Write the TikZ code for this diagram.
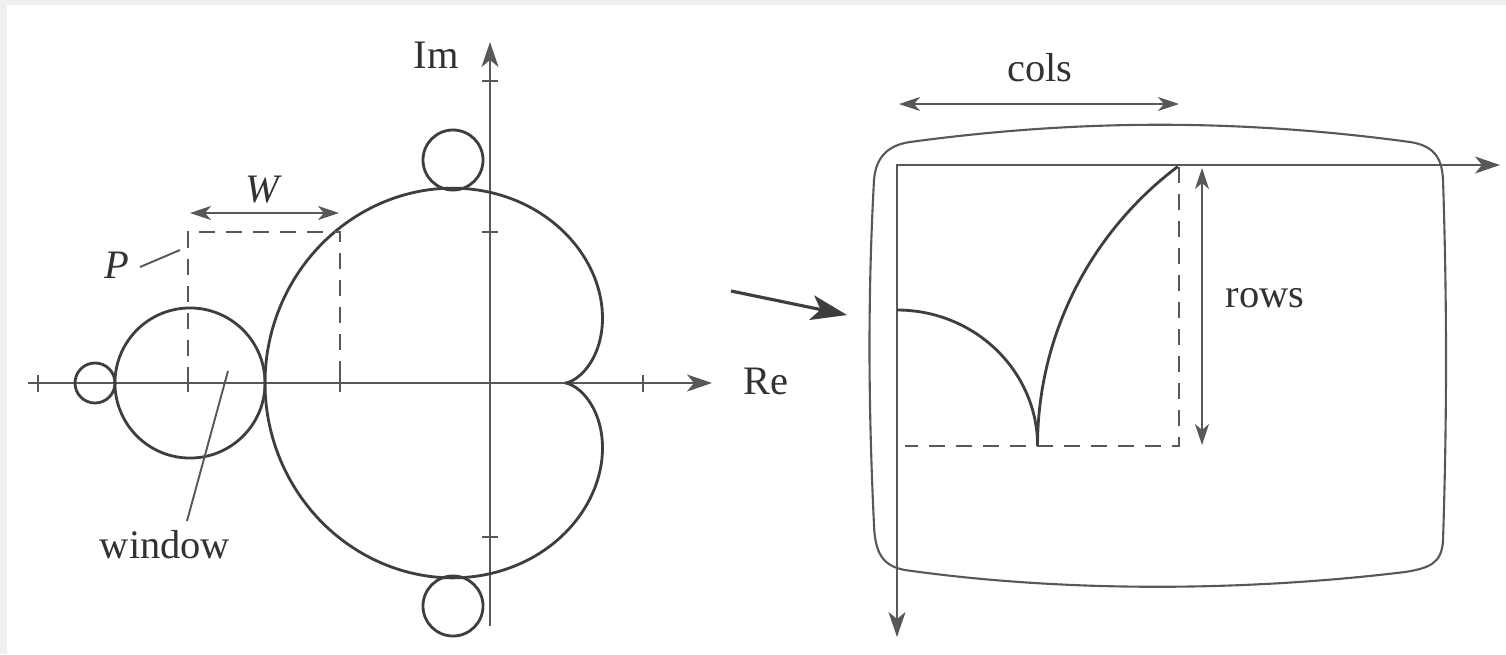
\documentclass[tikz,border=0pt]{standalone}
\usepackage{fontspec}
\setmainfont{Liberation Serif}
\usetikzlibrary{arrows.meta}
\definecolor{ink}{RGB}{62,62,62}
\definecolor{axiscol}{RGB}{88,88,88}
\definecolor{txt}{RGB}{50,50,50}
\begin{document}
\begin{tikzpicture}[x=0.01cm,y=-0.01cm,
  curve/.style={draw=ink, line width=0.8pt},
  ax/.style={draw=axiscol, line width=0.55pt},
  dashline/.style={draw=axiscol, line width=0.55pt, dash pattern=on 1.6mm off 1.1mm},
  onetip/.style={-{Stealth[length=2.5mm,width=1.7mm,inset=0.7mm]}},
  twotip/.style={{Stealth[length=2.1mm,width=1.4mm,inset=0.6mm]}-{Stealth[length=2.1mm,width=1.4mm,inset=0.6mm]}},
  lab/.style={font=\fontsize{11.5}{13}\selectfont, text=txt, inner sep=0pt, anchor=base}]
% background
\fill[gray!12] (0,0) rectangle (1506,654);
\fill[white] (7,5) rectangle (1506,654);
\useasboundingbox (0,0) rectangle (1506,654);

% ---------- left panel ----------
\coordinate (reL) at (28,383);
\coordinate (reR) at (712,383);
\coordinate (imB) at (490,626);
\coordinate (imT) at (490,42);
\draw[ax,onetip] (reL) -- (reR);
\draw[ax,onetip] (imB) -- (imT);
\foreach \xx in {38,188,340,643} \draw[ax] (\xx,375) -- (\xx,392);
\foreach \yy in {81,232,537} \draw[ax] (482,\yy) -- (498,\yy);

% main cardioid
\draw[curve] plot[domain=0:360,samples=361,variable=\t]
  ({490+300*(cos(\t)/2-cos(2*\t)/4)},{383-300*(sin(\t)/2-sin(2*\t)/4)});
% bulbs
\draw[curve] (190,383) circle[radius=0.75cm];
\draw[curve] (95,383) circle[radius=0.20cm];
\draw[curve] (453,160) circle[radius=0.30cm];
\draw[curve] (453,606) circle[radius=0.30cm];

% window
\draw[dashline] (188,383) -- (188,232) -- (340,232) -- (340,383);
\coordinate (w1) at (190,213);
\coordinate (w2) at (339,213);
\draw[ax,twotip] (w1) -- (w2);
\node[lab] (W) at (264,202) {\textit{W}};
\node[lab] (P) at (117,278) {\textit{P}};
\coordinate (pa) at (140,267);
\coordinate (pb) at (180,250);
\draw[ax] (pa) -- (pb);
\node[lab] (win) at (165,558) {window};
\coordinate (wa) at (187,521);
\coordinate (wb) at (228,371);
\draw[ax] (wa) -- (wb);
\node[lab] (Im) at (436,68) {Im};
\node[lab] (Re) at (766,394) {Re};

% ---------- middle arrow ----------
\coordinate (ma) at (731,291);
\coordinate (mb) at (847,315);
\draw[ink, line width=0.9pt, -{Stealth[length=3.6mm,width=2.5mm,inset=0.9mm]}] (ma) -- (mb);

% ---------- right panel ----------
\draw[draw=axiscol, line width=0.6pt]
  (910,142) .. controls (1080,119) and (1240,119) .. (1410,142)
  .. controls (1436,146) and (1442,160) .. (1443,180)
  .. controls (1447,300) and (1447,420) .. (1443,540)
  .. controls (1442,563) and (1430,568) .. (1405,572)
  .. controls (1240,592) and (1060,592) .. (905,570)
  .. controls (882,566) and (875,552) .. (874,525)
  .. controls (868,400) and (868,290) .. (874,180)
  .. controls (876,155) and (890,145) .. (910,142) -- cycle;

\coordinate (o) at (897,165);
\coordinate (hx) at (1500,165);
\coordinate (vy) at (897,637);
\draw[ax,{Stealth[length=2.5mm,width=1.7mm,inset=0.7mm]}-{Stealth[length=2.5mm,width=1.7mm,inset=0.7mm]}] (hx) -- (o) -- (vy);

\draw[curve] (897,310) arc[start angle=90,end angle=0,x radius=1.405cm,y radius=1.36cm];
\draw[curve] plot[domain=145.4:180,samples=60,variable=\t]
  ({897+562*(cos(\t)/2-cos(2*\t)/4+1)},{446-540*(sin(\t)/2-sin(2*\t)/4)});
\draw[dashline] (1179,167) -- (1179,446) -- (905,446);

\coordinate (c1) at (899,104);
\coordinate (c2) at (1179,104);
\draw[ax,twotip] (c1) -- (c2);
\coordinate (r1) at (1202,168);
\coordinate (r2) at (1202,445);
\draw[ax,twotip] (r1) -- (r2);
\node[lab] (cols) at (1040,81) {cols};
\node[lab] (rows) at (1265,307) {rows};
\end{tikzpicture}
\end{document}
